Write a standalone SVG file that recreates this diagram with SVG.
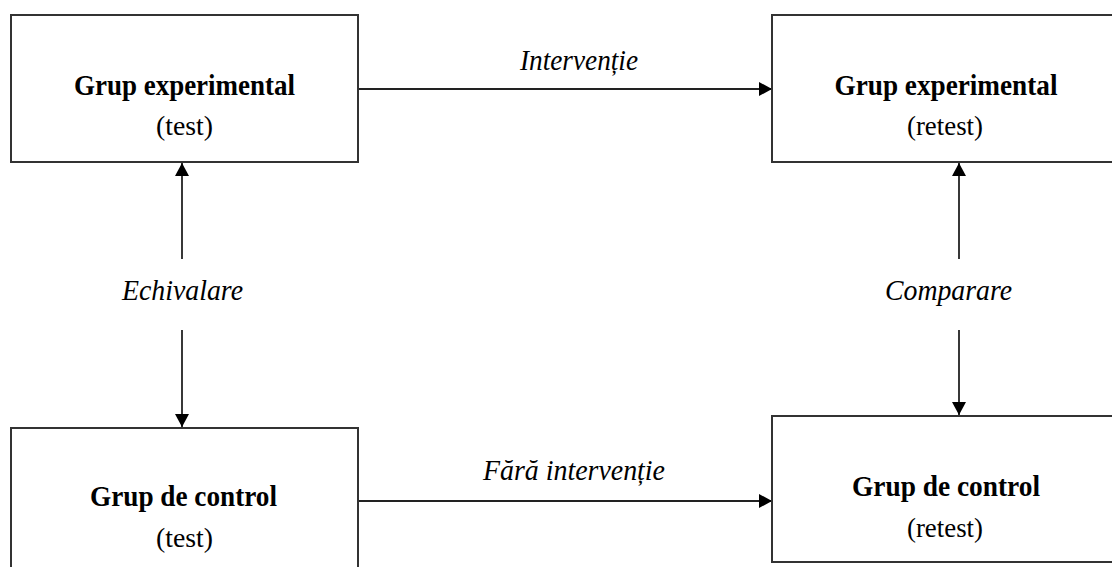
<svg xmlns="http://www.w3.org/2000/svg" width="1112" height="567" viewBox="0 0 1112 567">
<defs>
<marker id="ah" markerWidth="14" markerHeight="14" refX="13" refY="7" orient="auto" markerUnits="userSpaceOnUse">
<path d="M0,0 L13,7 L0,14 Z" fill="#000"/>
</marker>
<style>
.box{fill:#fff;stroke:#333;stroke-width:2}
.b{font-family:"Liberation Serif","Times New Roman",serif;font-weight:bold;font-size:30px;fill:#000;text-anchor:middle}
.r{font-family:"Liberation Serif","Times New Roman",serif;font-size:28px;fill:#000;text-anchor:middle}
.i{font-family:"Liberation Serif","Times New Roman",serif;font-style:italic;font-size:29px;fill:#000;text-anchor:middle}
.c{stroke:#222;stroke-width:1.8;fill:none}
</style>
</defs>
<rect width="1112" height="567" fill="#fff"/>
<g id="connectors">
<line class="c" x1="358" y1="89" x2="772" y2="89" marker-end="url(#ah)"/>
<line class="c" x1="358" y1="501" x2="772" y2="501" marker-end="url(#ah)"/>
<line class="c" x1="182" y1="259" x2="182" y2="163" marker-end="url(#ah)"/>
<line class="c" x1="182" y1="330" x2="182" y2="427" marker-end="url(#ah)"/>
<line class="c" x1="959" y1="259" x2="959" y2="163" marker-end="url(#ah)"/>
<line class="c" x1="959" y1="330" x2="959" y2="415" marker-end="url(#ah)"/>
<text class="i" x="579" y="70" textLength="118" lengthAdjust="spacingAndGlyphs">Intervenție</text>
<text class="i" x="574" y="480" textLength="182" lengthAdjust="spacingAndGlyphs">Fără intervenție</text>
<text class="i" x="182.5" y="300" textLength="121" lengthAdjust="spacingAndGlyphs">Echivalare</text>
<text class="i" x="948.5" y="300" textLength="127" lengthAdjust="spacingAndGlyphs">Comparare</text>
</g>
<g id="exp-test">
<rect class="box" x="11" y="15" width="347" height="147"/>
<text class="b" x="184.5" y="95" textLength="221" lengthAdjust="spacingAndGlyphs">Grup experimental</text>
<text class="r" x="184.5" y="135" textLength="57" lengthAdjust="spacingAndGlyphs">(test)</text>
</g>
<g id="exp-retest">
<rect class="box" x="772" y="15" width="360" height="147"/>
<text class="b" x="946" y="95" textLength="223" lengthAdjust="spacingAndGlyphs">Grup experimental</text>
<text class="r" x="945" y="135" textLength="76" lengthAdjust="spacingAndGlyphs">(retest)</text>
</g>
<g id="ctrl-test">
<rect class="box" x="11" y="428" width="347" height="160"/>
<text class="b" x="183.5" y="506" textLength="187" lengthAdjust="spacingAndGlyphs">Grup de control</text>
<text class="r" x="184.5" y="547" textLength="57" lengthAdjust="spacingAndGlyphs">(test)</text>
</g>
<g id="ctrl-retest">
<rect class="box" x="772" y="416" width="360" height="146"/>
<text class="b" x="946" y="496" textLength="188" lengthAdjust="spacingAndGlyphs">Grup de control</text>
<text class="r" x="945" y="537" textLength="76" lengthAdjust="spacingAndGlyphs">(retest)</text>
</g>
</svg>
